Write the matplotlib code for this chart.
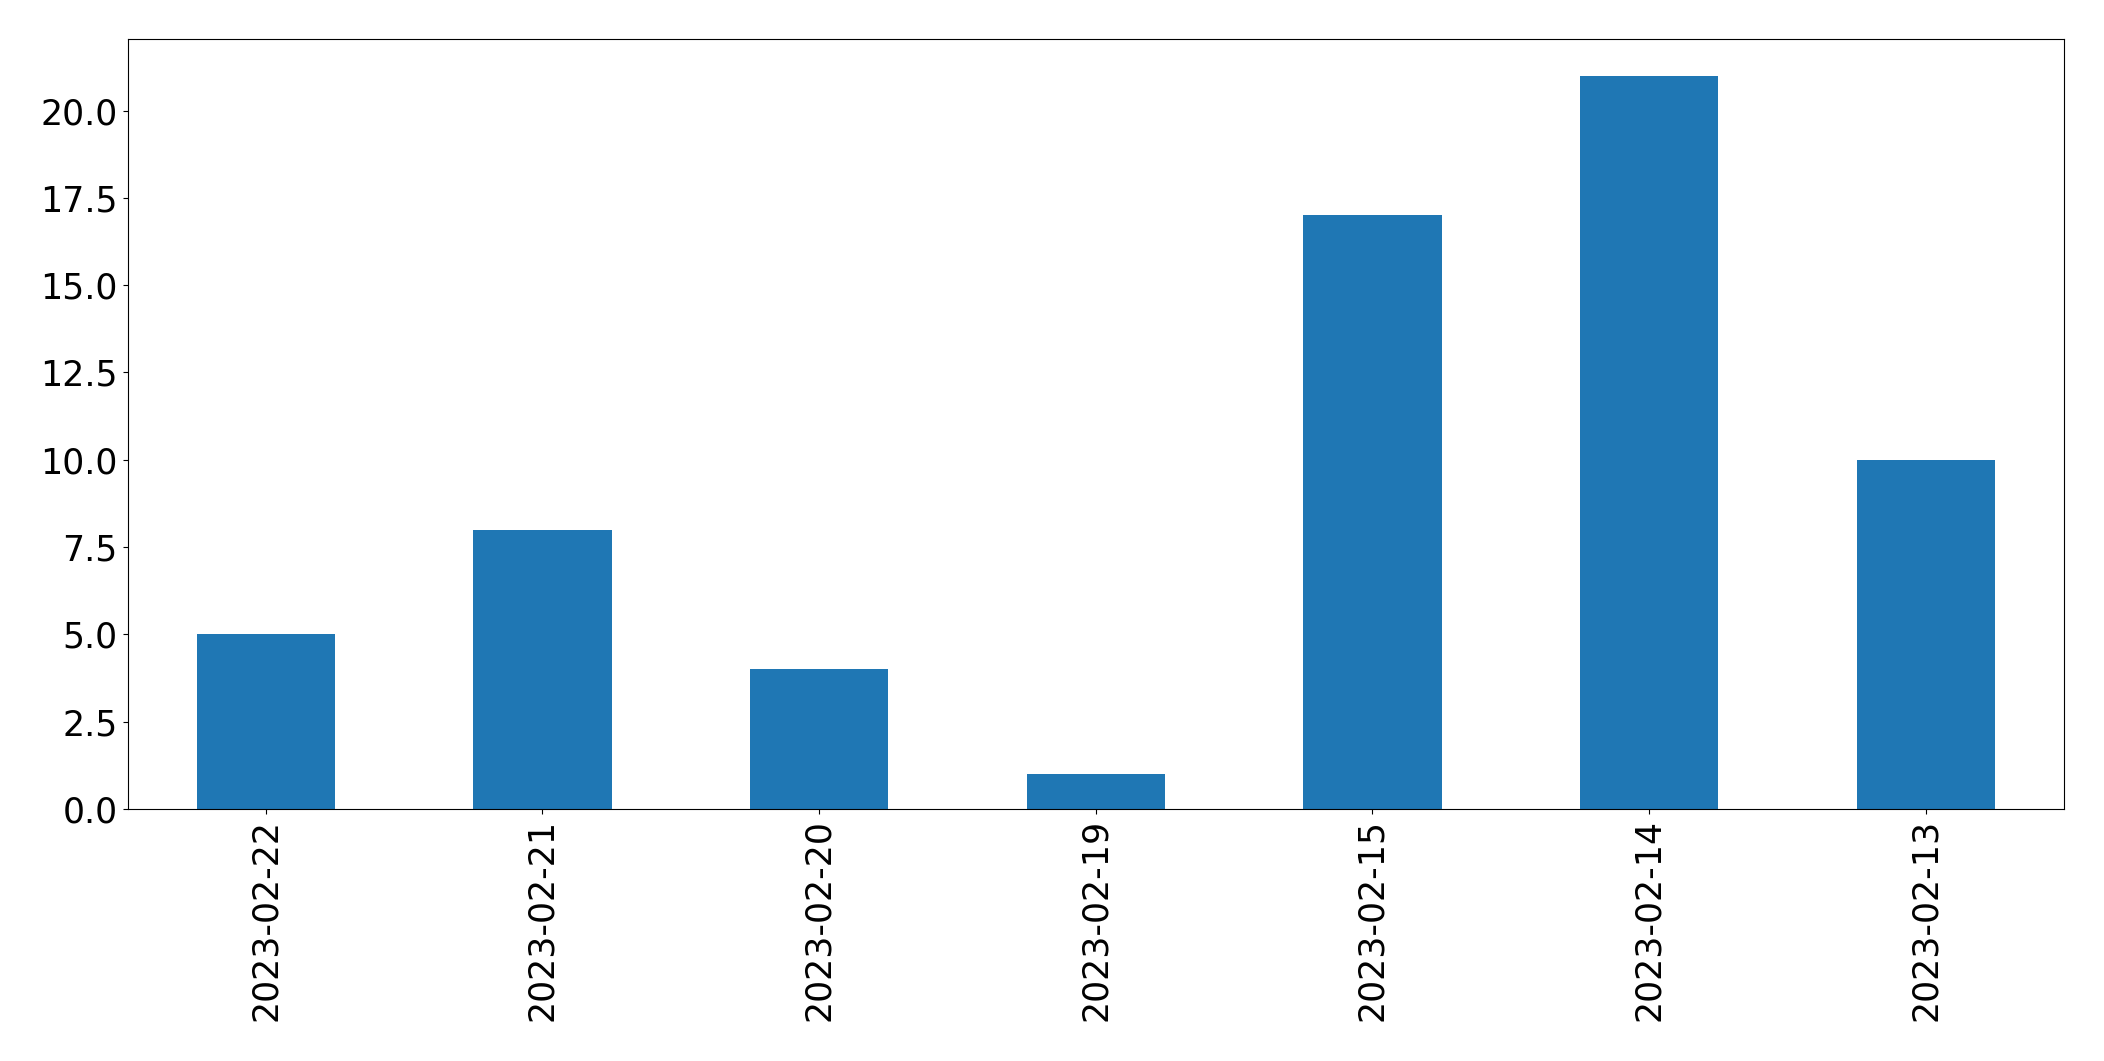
import matplotlib
matplotlib.use("Agg")
import matplotlib.pyplot as plt
import pandas as pd

# daily counts, newest first (as in the source)
dates = ["2023-02-22", "2023-02-21", "2023-02-20", "2023-02-19",
         "2023-02-15", "2023-02-14", "2023-02-13"]
counts = [5, 8, 4, 1, 17, 21, 10]

s = pd.Series(counts, index=dates)

fig = plt.figure(figsize=(21.04, 10.61), dpi=100)
ax = fig.add_axes([127.5 / 2104, 1 - 809 / 1061, (2064 - 127.5) / 2104, (809 - 39) / 1061])
s.plot(kind="bar", ax=ax, color="#1f77b4", width=0.5)
ax.tick_params(axis="both", labelsize=25)
ax.set_xticklabels(dates, rotation=90)

fig.savefig("out.png", dpi=100)
